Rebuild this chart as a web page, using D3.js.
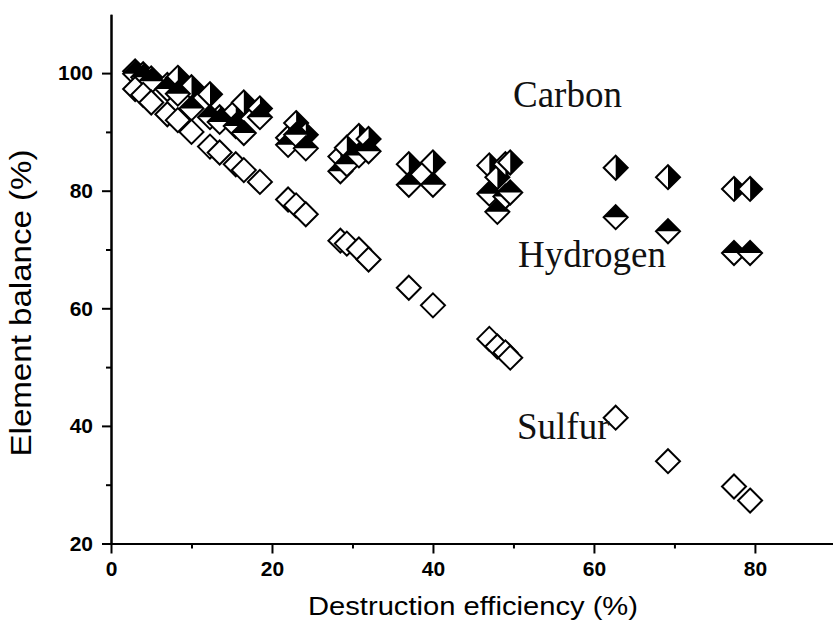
<!DOCTYPE html>
<html>
<head>
<meta charset="utf-8">
<script src="https://cdn.jsdelivr.net/npm/d3@7"></script>
<style>
  html, body { margin: 0; padding: 0; background: #fff; }
  svg { display: block; }
</style>
</head>
<body>
<svg id="chart" width="833" height="620"></svg>
<script>
// Destruction efficiency (%) of each run
const efficiency = [3.0, 4.0, 5.0, 7.0, 8.3, 10.0, 12.3, 13.5, 15.5, 16.5, 18.5,
  22.0, 23.0, 24.2, 28.5, 29.3, 30.8, 32.0, 37.0, 40.0, 47.0, 48.0, 49.0, 49.6,
  62.7, 69.2, 77.4, 79.4];

// Element balance (%) per run
const carbon = [100.3, 99.8, 99.1, 98.0, 99.2, 97.6, 96.4, 92.5, 93.5, 95.0, 94.0,
  89.0, 91.5, 89.5, 85.8, 87.3, 89.3, 88.8, 84.5, 84.8, 84.3, 82.3, 84.5, 84.8,
  83.9, 82.3, 80.3, 80.3];
const hydrogen = [99.9, 99.3, 98.6, 97.3, 96.5, 94.0, 92.5, 91.7, 91.0, 89.8, 92.5,
  87.8, 89.5, 87.2, 83.3, 84.5, 86.0, 86.7, 81.0, 81.0, 79.5, 76.4, 79.0, 79.7,
  75.5, 73.1, 69.4, 69.4];
const sulfur = [97.3, 96.3, 95.0, 93.0, 92.0, 90.0, 87.5, 86.5, 84.5, 83.5, 81.5,
  78.5, 77.5, 76.0, 71.5, 71.0, 70.0, 68.3, 63.5, 60.5, 54.8, 53.5, 52.5, 51.6,
  41.4, 34.0, 29.7, 27.3];

const xMajorTicks = [0, 20, 40, 60, 80];
const xMinorTicks = [10, 30, 50, 70];
const yMajorTicks = [20, 40, 60, 80, 100];
const yMinorTicks = [30, 50, 70, 90];

const series = [
  { name: "Carbon",   values: carbon,   half: "right" },
  { name: "Hydrogen", values: hydrogen, half: "top" },
  { name: "Sulfur",   values: sulfur,   half: "none" }
];

const svg = d3.select("#chart");
const x = d3.scaleLinear().domain([0, 89.7]).range([111, 833]);
const y = d3.scaleLinear().domain([20, 110]).range([543.5, 14.3]);

const axisFont = "'Liberation Sans', Arial, sans-serif";
const serifFont = "'Liberation Serif', 'Times New Roman', serif";

// Axes: outward ticks, bold numeric labels
function styleAxis(g) {
  g.select(".domain").attr("stroke", "#000").attr("stroke-width", 2);
  g.selectAll(".tick line").attr("stroke", "#000").attr("stroke-width", 2);
  g.selectAll(".tick text")
    .attr("fill", "#000")
    .attr("font-family", axisFont)
    .attr("font-weight", "bold")
    .attr("font-size", 21);
}

svg.append("g")
  .attr("transform", `translate(0,${y(20)})`)
  .call(d3.axisBottom(x).tickValues(xMinorTicks).tickSize(5).tickFormat("").tickSizeOuter(0))
  .call(styleAxis);
svg.append("g")
  .attr("transform", `translate(0,${y(20)})`)
  .call(d3.axisBottom(x).tickValues(xMajorTicks).tickSize(10).tickPadding(8).tickSizeOuter(0))
  .call(styleAxis);

svg.append("g")
  .attr("transform", `translate(${x(0)},0)`)
  .call(d3.axisLeft(y).tickValues(yMinorTicks).tickSize(5).tickFormat("").tickSizeOuter(0))
  .call(styleAxis);
svg.append("g")
  .attr("transform", `translate(${x(0)},0)`)
  .call(d3.axisLeft(y).tickValues(yMajorTicks).tickSize(9).tickPadding(9).tickSizeOuter(0))
  .call(styleAxis);

// Axis titles
svg.append("text")
  .attr("x", 473).attr("y", 615)
  .attr("text-anchor", "middle")
  .attr("font-family", axisFont).attr("font-size", 25.5)
  .attr("textLength", 330).attr("lengthAdjust", "spacingAndGlyphs")
  .text("Destruction efficiency (%)");

svg.append("text")
  .attr("transform", "translate(31,303) rotate(-90)")
  .attr("text-anchor", "middle")
  .attr("font-family", axisFont).attr("font-size", 30)
  .attr("textLength", 307).attr("lengthAdjust", "spacingAndGlyphs")
  .text("Element balance (%)");

// Half-filled diamond markers
const r = 12;
const diamond = `M0,${-r}L${r},0L0,${r}L${-r},0Z`;
const halves = {
  right: `M0,${-r}L${r},0L0,${r}Z`,
  top: `M${-r},0L0,${-r}L${r},0Z`
};

series.forEach(s => {
  const pts = efficiency.map((e, i) => ({ e, v: s.values[i] }));
  const g = svg.append("g").attr("class", "series-" + s.name.toLowerCase());
  const m = g.selectAll("g.pt").data(pts).join("g")
    .attr("class", "pt")
    .attr("transform", d => `translate(${x(d.e)},${y(d.v)})`);
  m.append("path").attr("d", diamond).attr("fill", "#fff");
  if (s.half !== "none") {
    m.append("path").attr("d", halves[s.half]).attr("fill", "#000");
  }
  m.append("path").attr("d", diamond)
    .attr("fill", "none").attr("stroke", "#000")
    .attr("stroke-width", 2).attr("stroke-linejoin", "miter");
});

// Series labels
const labels = [
  { text: "Carbon",   x: 513, y: 107 },
  { text: "Hydrogen", x: 518, y: 267 },
  { text: "Sulfur",   x: 517, y: 439 }
];
svg.selectAll("text.series-label").data(labels).join("text")
  .attr("class", "series-label")
  .attr("x", d => d.x).attr("y", d => d.y)
  .attr("font-family", serifFont).attr("font-size", 37)
  .attr("fill", "#111")
  .text(d => d.text);
</script>
</body>
</html>
